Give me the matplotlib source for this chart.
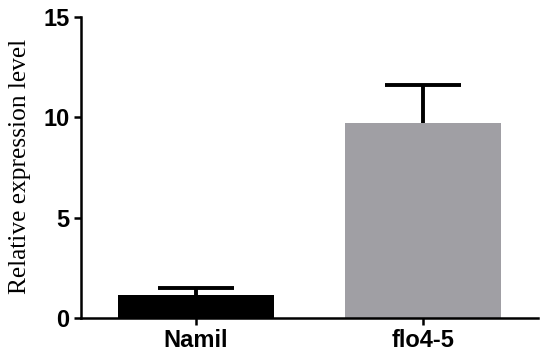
import numpy as np
import matplotlib
matplotlib.use("Agg")
from matplotlib import pyplot as plt

# Values
groups = ["Namil", "flo4-5"]
means = [1.15, 9.70]
sem_up = [0.33, 1.91]
colors = ["#000000", "#a09fa4"]

fig = plt.figure(figsize=(5.5, 3.64), dpi=100)
ax = fig.add_axes([0.147, 0.1264, 0.831, 0.8266])

ind = np.arange(len(groups))
tops = np.add(means, sem_up)
ax.bar(ind, means, 0.687, color=colors, zorder=2)
# upward-only error bars: stem + cap
ax.vlines(ind, means, tops, color="black", lw=2.8, zorder=1)
ax.plot(ind, tops, ls="none", marker="_", markersize=54.8, mew=2.8,
        color="black", zorder=1)

ax.set_xlim(-0.507, 1.507)
ax.set_ylim(0, 15)
ax.set_yticks([0, 5, 10, 15])
ax.set_xticks(ind)

tfont = {"family": "Liberation Sans", "weight": "bold", "size": 17}
ax.set_xticklabels(groups, **tfont)
ax.set_yticklabels(["0", "5", "10", "15"], **tfont)
ax.set_ylabel("Relative expression level", family="Liberation Serif", size=18.3)
ax.yaxis.set_label_coords(-0.11, 0.505)

for side in ["top", "right"]:
    ax.spines[side].set_visible(False)
for side in ["left", "bottom"]:
    ax.spines[side].set_linewidth(1.8)
ax.tick_params(width=1.8, length=5, pad=3)

plt.savefig("out.png", dpi=100)
